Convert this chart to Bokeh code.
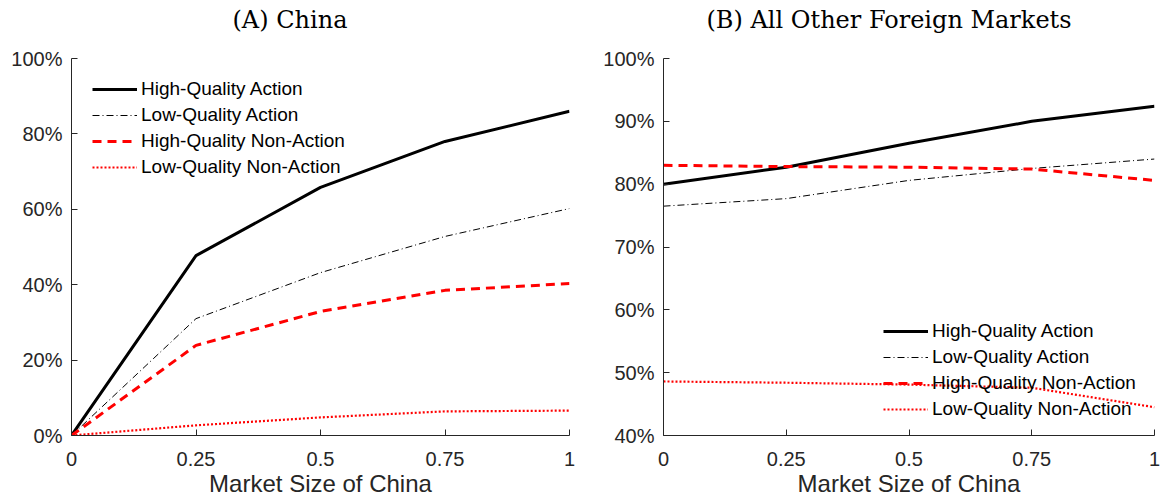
from bokeh.plotting import figure
from bokeh.layouts import row
from bokeh.models import FixedTicker, CustomJSTickFormatter, Range1d, Title
from bokeh.embed import file_html
from bokeh.resources import INLINE

# ---- data ----
market_size = [0, 0.25, 0.5, 0.75, 1]
x_ticks = [0, 0.25, 0.5, 0.75, 1]

china_hq_action = [0, 47.7, 65.8, 78.0, 86.0]
china_lq_action = [0, 31.0, 43.2, 52.8, 60.2]
china_hq_nonaction = [0, 23.9, 32.9, 38.5, 40.3]
china_lq_nonaction = [0, 2.7, 4.8, 6.4, 6.6]
china_y_ticks = [0, 20, 40, 60, 80, 100]

other_hq_action = [80.0, 82.7, 86.5, 90.0, 92.4]
other_lq_action = [76.5, 77.7, 80.6, 82.5, 84.0]
other_hq_nonaction = [83.0, 82.8, 82.7, 82.4, 80.6]
other_lq_nonaction = [48.6, 48.4, 48.1, 47.6, 44.5]
other_y_ticks = [40, 50, 60, 70, 80, 90, 100]

labels = ["High-Quality Action", "Low-Quality Action",
          "High-Quality Non-Action", "Low-Quality Non-Action"]

AX = "#262626"
SANS = "Liberation Sans"
SERIF = "DejaVu Serif"


def make_panel(title, series, y_rng, y_ticks, frame_w, border_l, border_r, legend_loc, title_offset):
    p = figure(frame_width=frame_w, frame_height=377,
               x_range=Range1d(0, 1), y_range=Range1d(*y_rng),
               output_backend="svg", toolbar_location=None,
               min_border_left=border_l, min_border_right=border_r,
               min_border_top=58, min_border_bottom=60)
    p.outline_line_color = None
    p.xgrid.visible = False
    p.ygrid.visible = False

    # spacer between caption and frame (closest to the frame)
    p.add_layout(Title(text=" ", text_font_size="1px", standoff=19), "above")

    p.title.text = title
    p.title.text_font = SERIF
    p.title.text_font_size = "24px"
    p.title.text_font_style = "normal"
    p.title.text_color = "black"
    p.title.align = "left"
    p.title.offset = title_offset
    p.title.standoff = 6

    styles = [
        dict(line_color="black", line_width=3, line_dash="solid"),
        dict(line_color="black", line_width=1, line_dash="7 3 1 3"),
        dict(line_color="#ff0000", line_width=3, line_dash="9 6"),
        dict(line_color="#ff0000", line_width=2.2, line_dash="2 2"),
    ]
    for ys, lab, st in zip(series, labels, styles):
        p.line(market_size, ys, legend_label=lab, **st)

    for ax in (p.xaxis[0], p.yaxis[0]):
        ax.axis_line_color = AX
        ax.major_tick_line_color = AX
        ax.major_tick_in = 6
        ax.major_tick_out = 0
        ax.minor_tick_line_color = None
        ax.major_label_text_font = SANS
        ax.major_label_text_font_size = "20px"
        ax.major_label_text_color = AX

    p.xaxis.ticker = FixedTicker(ticks=x_ticks)
    p.xaxis.formatter = CustomJSTickFormatter(code="return tick.toString();")
    p.xaxis.major_label_standoff = 16
    p.xaxis.axis_label = "Market Size of China"
    p.xaxis.axis_label_text_font = SANS
    p.xaxis.axis_label_text_font_size = "24px"
    p.xaxis.axis_label_text_font_style = "normal"
    p.xaxis.axis_label_text_color = AX
    p.xaxis.axis_label_standoff = 1

    p.yaxis.ticker = FixedTicker(ticks=y_ticks)
    p.yaxis.formatter = CustomJSTickFormatter(code="return tick + '%';")
    p.yaxis.major_label_standoff = 9

    lg = p.legend[0]
    lg.location = legend_loc
    lg.border_line_color = None
    lg.background_fill_alpha = 0
    lg.padding = 0
    lg.margin = 0
    lg.spacing = 4
    lg.glyph_width = 45
    lg.glyph_height = 20
    lg.label_height = 20
    lg.label_standoff = 4
    lg.label_text_font = SANS
    lg.label_text_font_size = "19px"
    lg.label_text_color = "black"
    return p


p1 = make_panel("(A) China",
                [china_hq_action, china_lq_action, china_hq_nonaction, china_lq_nonaction],
                (0, 100), china_y_ticks, 498, 71, 31, (21, 257), 161)
p2 = make_panel("(B) All Other Foreign Markets",
                [other_hq_action, other_lq_action, other_hq_nonaction, other_lq_nonaction],
                (40, 100), other_y_ticks, 491, 63, 6, (220, 15), 43)

layout = row(p1, p2)
open("out.html", "w").write(file_html(layout, INLINE))
